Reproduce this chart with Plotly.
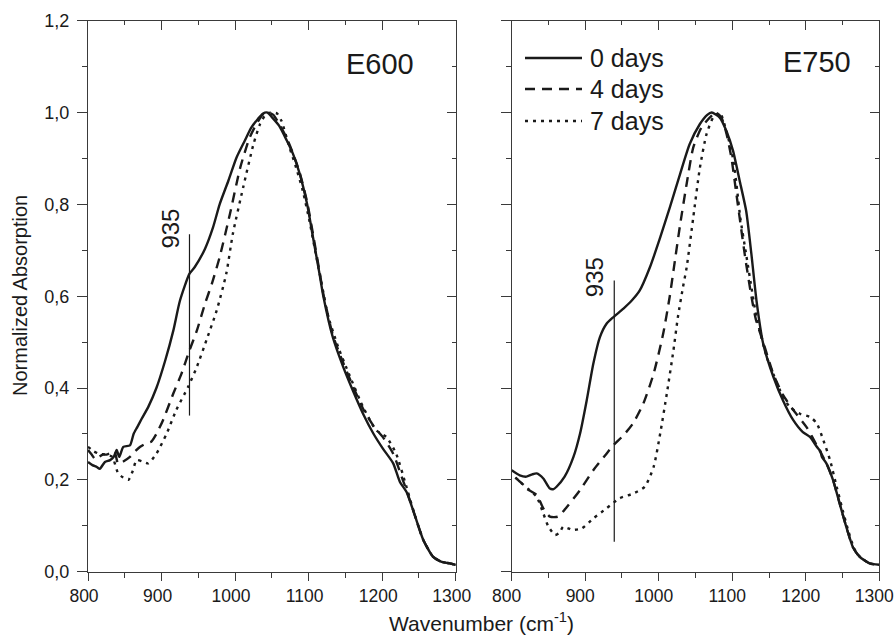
import plotly.graph_objects as go

# ---------------- data ----------------
# E600 panel
e600_wn_0 = [800, 806, 812, 816, 823, 830, 835, 839, 842.5, 848, 857, 862, 867, 873, 882, 893, 905, 916, 925, 938,
             945, 959, 970, 979, 991, 1002, 1013, 1022, 1031, 1038, 1044, 1050, 1060, 1070, 1079, 1088, 1098, 1106,
             1115, 1120, 1133, 1147, 1160, 1174, 1188, 1201, 1215, 1224, 1233, 1245, 1256, 1269, 1280, 1292, 1300]
e600_ab_0 = [0.239, 0.232, 0.228, 0.224, 0.239, 0.243, 0.25, 0.265, 0.25, 0.272, 0.275, 0.30, 0.315, 0.333, 0.359,
             0.40, 0.46, 0.525, 0.59, 0.649, 0.663, 0.703, 0.75, 0.80, 0.852, 0.902, 0.938, 0.967, 0.986, 0.998, 1.0,
             0.99, 0.971, 0.94, 0.909, 0.866, 0.80, 0.728, 0.647, 0.60, 0.51, 0.446, 0.395, 0.344, 0.301, 0.268,
             0.236, 0.196, 0.174, 0.12, 0.069, 0.033, 0.022, 0.018, 0.015]

e600_wn_4 = [800, 805, 810, 815, 820, 825, 830, 836, 841, 848, 857, 864, 871, 880, 886, 893, 902, 916, 927, 938, 948,
             959, 969, 979, 993, 1007, 1020, 1029, 1038, 1045, 1052, 1060, 1070, 1079, 1088, 1098, 1106, 1115, 1120,
             1133, 1147, 1160, 1174, 1188, 1201, 1215, 1228, 1233, 1245, 1256, 1269, 1280, 1292, 1300]
e600_ab_4 = [0.265, 0.255, 0.245, 0.25, 0.255, 0.255, 0.258, 0.262, 0.235, 0.24, 0.25, 0.262, 0.272, 0.28, 0.283, 0.30,
             0.33, 0.388, 0.431, 0.482, 0.525, 0.583, 0.63, 0.685, 0.779, 0.88, 0.946, 0.975, 0.996, 1.0, 0.995,
             0.975, 0.945, 0.91, 0.868, 0.805, 0.735, 0.652, 0.605, 0.515, 0.455, 0.405, 0.355, 0.318, 0.293,
             0.257, 0.20, 0.178, 0.12, 0.069, 0.033, 0.022, 0.018, 0.015]

e600_wn_7 = [800, 808, 815, 825, 833, 841, 848, 855, 861, 866, 874, 882, 893, 907, 920, 936, 948, 961, 975, 988, 997,
             1011, 1025, 1034, 1043, 1050, 1057, 1063, 1074, 1083, 1092, 1101, 1110, 1118, 1126, 1140, 1155, 1174,
             1192, 1206, 1219, 1233, 1245, 1256, 1269, 1280, 1292, 1300]
e600_ab_7 = [0.272, 0.262, 0.257, 0.255, 0.25, 0.214, 0.205, 0.20, 0.22, 0.243, 0.24, 0.236, 0.257, 0.301, 0.352,
             0.402, 0.446, 0.504, 0.569, 0.649, 0.736, 0.837, 0.931, 0.975, 0.998, 1.0, 0.998, 0.982, 0.924, 0.88,
             0.83, 0.765, 0.69, 0.625, 0.56, 0.49, 0.43, 0.359, 0.308, 0.293, 0.257, 0.185, 0.12, 0.069, 0.033,
             0.022, 0.018, 0.015]

# E750 panel
e750_wn_0 = [800, 811, 820, 828, 834, 843, 852, 857, 861, 872, 884, 893, 902, 911, 920, 929, 938, 952, 963, 974, 988,
             1002, 1015, 1029, 1042, 1056, 1066, 1072, 1083, 1092, 1101, 1110, 1119, 1126, 1133, 1142, 1156, 1169,
             1183, 1196, 1206, 1215, 1220, 1222, 1228, 1237, 1246, 1255, 1264, 1273, 1287, 1300]
e750_ab_0 = [0.221, 0.21, 0.207, 0.212, 0.214, 0.203, 0.181, 0.18, 0.185, 0.207, 0.25, 0.301, 0.373, 0.453, 0.511,
             0.54, 0.554, 0.573, 0.59, 0.612, 0.663, 0.728, 0.793, 0.866, 0.931, 0.975, 0.995, 1.0, 0.989, 0.96,
             0.917, 0.852, 0.785, 0.692, 0.59, 0.497, 0.424, 0.373, 0.33, 0.304, 0.293, 0.272, 0.262, 0.25, 0.236,
             0.20, 0.149, 0.098, 0.054, 0.033, 0.018, 0.015]

e750_wn_4 = [805, 812, 820, 834, 843, 852, 863, 875, 893, 911, 929, 938, 952, 965, 979, 993, 1006, 1015, 1020, 1029,
             1038, 1047, 1058, 1070, 1078, 1085, 1092, 1099, 1105, 1111, 1118, 1126, 1132, 1142, 1156, 1169, 1183,
             1201, 1215, 1228, 1237, 1246, 1255, 1264, 1273, 1287, 1300]
e750_ab_4 = [0.205, 0.195, 0.181, 0.167, 0.138, 0.12, 0.12, 0.141, 0.178, 0.221, 0.257, 0.275, 0.297, 0.323, 0.366,
             0.431, 0.518, 0.60, 0.655, 0.755, 0.845, 0.924, 0.967, 0.99, 1.0, 0.99, 0.955, 0.90, 0.83, 0.76,
             0.68, 0.60, 0.55, 0.50, 0.43, 0.385, 0.352, 0.315, 0.275, 0.236, 0.20, 0.149, 0.098, 0.054, 0.033,
             0.018, 0.015]

e750_wn_7 = [805, 812, 822, 834, 843, 850, 859, 865, 870, 876, 882, 895, 911, 929, 947, 965, 981, 993, 1002, 1011,
             1020, 1026, 1033, 1038, 1047, 1056, 1065, 1074, 1083, 1092, 1101, 1106, 1111, 1119, 1127, 1133, 1147,
             1156, 1165, 1178, 1192, 1206, 1215, 1224, 1233, 1242, 1250, 1258, 1266, 1275, 1287, 1300]
e750_ab_7 = [0.205, 0.195, 0.181, 0.163, 0.127, 0.098, 0.08, 0.085, 0.098, 0.095, 0.091, 0.094, 0.116, 0.138, 0.16,
             0.17, 0.185, 0.228, 0.301, 0.388, 0.482, 0.554, 0.62, 0.663, 0.772, 0.88, 0.953, 0.989, 1.0, 0.96,
             0.90, 0.84, 0.77, 0.69, 0.61, 0.554, 0.467, 0.43, 0.395, 0.359, 0.344, 0.337, 0.323, 0.286, 0.243,
             0.185, 0.135, 0.088, 0.05, 0.03, 0.018, 0.015]

marker_wn = 938            # "935" marker line position
marker_e600 = [0.34, 0.735]
marker_e750 = [0.065, 0.634]

series_names = ["0 days", "4 days", "7 days"]
panel_names = ["E600", "E750"]

x_tickvals = [800, 900, 1000, 1100, 1200, 1300]
x_ticktext = ["800", "900", "1000", "1100", "1200", "1300"]
y_tickvals = [0.0, 0.2, 0.4, 0.6, 0.8, 1.0, 1.2]
y_ticktext = ["0,0", "0,2", "0,4", "0,6", "0,8", "1,0", "1,2"]

# ---------------- styling ----------------
W, H = 895, 636
FONT = "Liberation Sans, Arial, Helvetica, sans-serif"
INK = "#1a1a1a"
AX = "#3a3a3a"
LW = 2.4
dashes = ["solid", "10px,7px", "3px,5px"]

dom_left = [88 / W, 455.7 / W]
dom_right = [511.7 / W, 879.3 / W]
dom_y = [(H - 571.7) / H, (H - 20.7) / H]

fig = go.Figure()
panels = [
    ("x", "y", [(e600_wn_0, e600_ab_0), (e600_wn_4, e600_ab_4), (e600_wn_7, e600_ab_7)]),
    ("x2", "y2", [(e750_wn_0, e750_ab_0), (e750_wn_4, e750_ab_4), (e750_wn_7, e750_ab_7)]),
]
for xa, ya, series in panels:
    for (wn, ab), name, d in zip(series, series_names, dashes):
        fig.add_trace(go.Scatter(x=wn, y=ab, mode="lines", name=name, xaxis=xa, yaxis=ya,
                                 line=dict(color=INK, width=LW, dash=d, shape="spline", smoothing=0.6),
                                 showlegend=False, hoverinfo="skip"))

# invisible helper traces so the mirrored (top / right) tick axes get drawn
for xa, ya in [("x3", "y"), ("x", "y3"), ("x4", "y2"), ("x2", "y4")]:
    fig.add_trace(go.Scatter(x=[1000], y=[0.5], mode="markers", xaxis=xa, yaxis=ya,
                             marker=dict(opacity=0, size=1), showlegend=False, hoverinfo="skip"))

base = dict(showgrid=False, zeroline=False, showline=True, linecolor=AX, linewidth=1.4, automargin=False,
            tickcolor=AX, tickwidth=1.4, ticklabeloverflow="allow",
            tickfont=dict(size=18, color=INK, family=FONT))


def xax(domain, anchor, **kw):
    d = dict(base)
    d.update(domain=domain, anchor=anchor, range=[800, 1300], tickmode="array",
             tickvals=x_tickvals, ticktext=x_ticktext)
    d.update(kw)
    return d


def yax(anchor, **kw):
    d = dict(base)
    d.update(domain=dom_y, anchor=anchor, range=[0, 1.2], tickmode="array",
             tickvals=y_tickvals, ticktext=y_ticktext)
    d.update(kw)
    return d


XFONT = dict(size=17.5, color=INK, family=FONT)
fig.update_layout(
    width=W, height=H, margin=dict(l=0, r=0, t=0, b=0),
    paper_bgcolor="white", plot_bgcolor="white",
    font=dict(family=FONT, color=INK),
    xaxis=xax(dom_left, "y", ticks="outside", ticklen=8, ticklabelshift=-4, tickfont=XFONT,
              minor=dict(dtick=50, tick0=800, ticks="outside", ticklen=5, tickcolor=AX, tickwidth=1.4)),
    xaxis2=xax(dom_right, "y2", ticks="outside", ticklen=8, ticklabelshift=-5, tickfont=XFONT,
               minor=dict(dtick=50, tick0=800, ticks="outside", ticklen=5, tickcolor=AX, tickwidth=1.4)),
    xaxis3=xax(dom_left, "y", overlaying="x", side="top", ticks="inside", ticklen=9, showticklabels=False,
               minor=dict(dtick=50, tick0=800, ticks="inside", ticklen=4, tickcolor=AX, tickwidth=1.4)),
    xaxis4=xax(dom_right, "y2", overlaying="x2", side="top", ticks="inside", ticklen=9, showticklabels=False,
               minor=dict(dtick=50, tick0=800, ticks="inside", ticklen=4, tickcolor=AX, tickwidth=1.4)),
    yaxis=yax("x", ticks="outside", ticklen=10, ticklabelstandoff=4,
              minor=dict(dtick=0.1, tick0=0, ticks="outside", ticklen=5, tickcolor=AX, tickwidth=1.4)),
    yaxis2=yax("x2", ticks="outside", ticklen=10, showticklabels=False,
               minor=dict(dtick=0.1, tick0=0, ticks="outside", ticklen=5, tickcolor=AX, tickwidth=1.4)),
    yaxis3=yax("x", overlaying="y", side="right", ticks="inside", ticklen=9, showticklabels=False,
               minor=dict(dtick=0.1, tick0=0, ticks="inside", ticklen=4, tickcolor=AX, tickwidth=1.4)),
    yaxis4=yax("x2", overlaying="y2", side="right", ticks="inside", ticklen=9, showticklabels=False,
               minor=dict(dtick=0.1, tick0=0, ticks="inside", ticklen=4, tickcolor=AX, tickwidth=1.4)),
    showlegend=False,
)

# marker lines at 935 cm-1
fig.add_shape(type="line", xref="x", yref="y", x0=marker_wn, x1=marker_wn, y0=marker_e600[0], y1=marker_e600[1],
              line=dict(color=INK, width=1.2))
fig.add_shape(type="line", xref="x2", yref="y2", x0=marker_wn + 1.5, x1=marker_wn + 1.5,
              y0=marker_e750[0], y1=marker_e750[1], line=dict(color=INK, width=1.2))

ann = []
ann.append(dict(text="935", xref="x", yref="y", x=912, y=0.748, textangle=-90, showarrow=False,
                font=dict(size=24, family=FONT, color=INK)))
ann.append(dict(text="935", xref="x2", yref="y2", x=913, y=0.641, textangle=-90, showarrow=False,
                font=dict(size=24, family=FONT, color=INK)))
ann.append(dict(text=panel_names[0], xref="x", yref="y", x=1197, y=1.106, showarrow=False,
                font=dict(size=29, family=FONT, color=INK)))
ann.append(dict(text=panel_names[1], xref="x2", yref="y2", x=1215, y=1.11, showarrow=False,
                font=dict(size=29, family=FONT, color=INK)))
ann.append(dict(text="Normalized Absorption", xref="paper", yref="paper", x=20 / W, y=(H - 296) / H,
                textangle=-90, showarrow=False, xanchor="center", yanchor="middle",
                font=dict(size=20, family=FONT, color=INK)))
ann.append(dict(text="Wavenumber (cm<sup>-1</sup>)", xref="paper", yref="paper", x=481 / W, y=(H - 622) / H,
                showarrow=False, xanchor="center", yanchor="middle",
                font=dict(size=21, family=FONT, color=INK)))

# legend drawn inside the E750 panel
leg_y = [58, 89, 121]
for name, d, yy in zip(series_names, dashes, leg_y):
    fig.add_shape(type="line", xref="paper", yref="paper", x0=525 / W, x1=582 / W,
                  y0=(H - yy) / H, y1=(H - yy) / H, line=dict(color=INK, width=LW, dash=d))
    ann.append(dict(text=name, xref="paper", yref="paper", x=588 / W, y=(H - yy) / H, xanchor="left",
                    yanchor="middle", showarrow=False, font=dict(size=25, family=FONT, color=INK)))

fig.update_layout(annotations=ann)
fig.write_html("out.html", config={"displayModeBar": False},
               post_script="document.body.style.margin='0';document.body.style.overflow='hidden';")
